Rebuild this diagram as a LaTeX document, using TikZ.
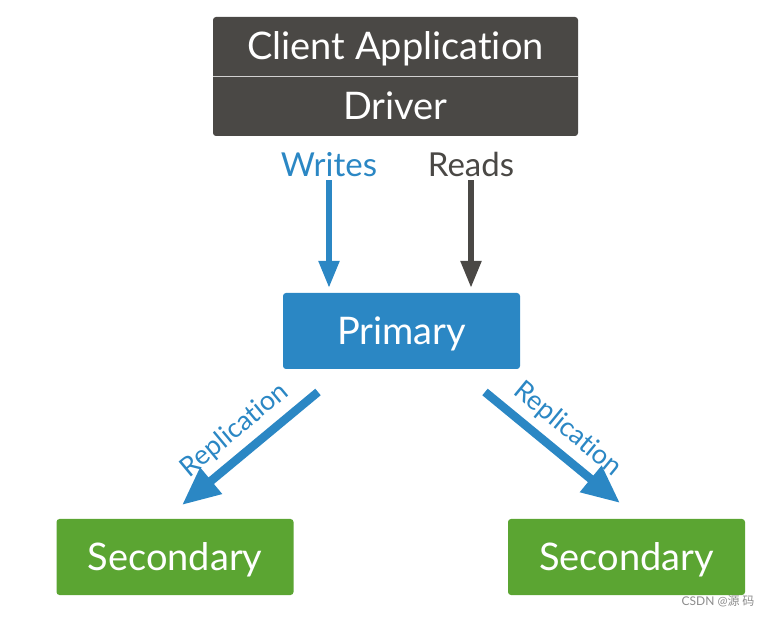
\documentclass[tikz,border=0pt]{standalone}
\usepackage{fontspec}
\setmainfont{Lato}[Ligatures=NoCommon]
\newfontfamily\cjk{Noto Sans CJK SC}
\usetikzlibrary{arrows.meta}

\definecolor{appgray}{HTML}{4A4845}
\definecolor{mblue}{HTML}{2B87C4}
\definecolor{mgreen}{HTML}{5BA532}

\begin{document}
\begin{tikzpicture}[x=1pt, y=-1pt,
    box/.style={rounded corners=3pt, inner sep=0pt, text=white, text depth=0pt,
        minimum width=237pt, minimum height=76pt, font=\fontsize{38}{38}\selectfont},
    boxtext/.style={anchor=base, inner sep=0pt, text=white, font=\fontsize{38}{38}\selectfont},
    rwlabel/.style={anchor=base, inner sep=0pt, font=\fontsize{33}{33}\selectfont},
    rwarrow/.style={line width=5.5pt, -{Triangle[width=20pt, length=27pt]}},
    reparrow/.style={line width=8.5pt, mblue, -{Triangle[width=32pt, length=38pt]}},
    replabel/.style={midway, sloped, above, inner sep=7pt, mblue, font=\fontsize{27}{27}\selectfont}]
    \useasboundingbox (0,0) rectangle (777,617);

    % client application and driver
    \node[fill=appgray, rounded corners=3pt, inner sep=0pt,
        minimum width=365pt, minimum height=119pt] (app) at (395.5,76.5) {};
    \draw[line width=1pt, white!75!appgray] (app.west) -- (app.east);
    \node[boxtext] (client) at (395.5,60) {Client Application};
    \node[boxtext] (driver) at (395.5,120) {Driver};

    % writes and reads
    \node[rwlabel, text=mblue] (writes) at (329,177) {Writes};
    \node[rwlabel, text=appgray] (reads) at (471,177) {Reads};

    \node[box, fill=mblue] (primary) at (401.5,331) {Primary};

    \draw[rwarrow, mblue, shorten <=3pt, shorten >=5pt] (writes.south) -- (writes.south |- primary.north);
    \draw[rwarrow, appgray, shorten <=3pt, shorten >=5pt] (reads.south) -- (reads.south |- primary.north);

    % secondaries
    \node[box, fill=mgreen] (sec1) at (175,557) {Secondary};
    \node[box, fill=mgreen] (sec2) at (626.5,557) {Secondary};

    \coordinate (ltail) at (318,392);
    \coordinate (ltip) at (182,505);
    \coordinate (rtail) at (485,392);
    \coordinate (rtip) at (620,503);

    \draw[reparrow] (ltail) -- (ltip) node[replabel] {Replication};
    \draw[reparrow] (rtail) -- (rtip) node[replabel] {Replication};

    \node[inner sep=0pt, text=black!45, font=\fontsize{12}{12}\selectfont] (mark) at (718,601) {CSDN @{\cjk 源\ 码}};
\end{tikzpicture}
\end{document}
